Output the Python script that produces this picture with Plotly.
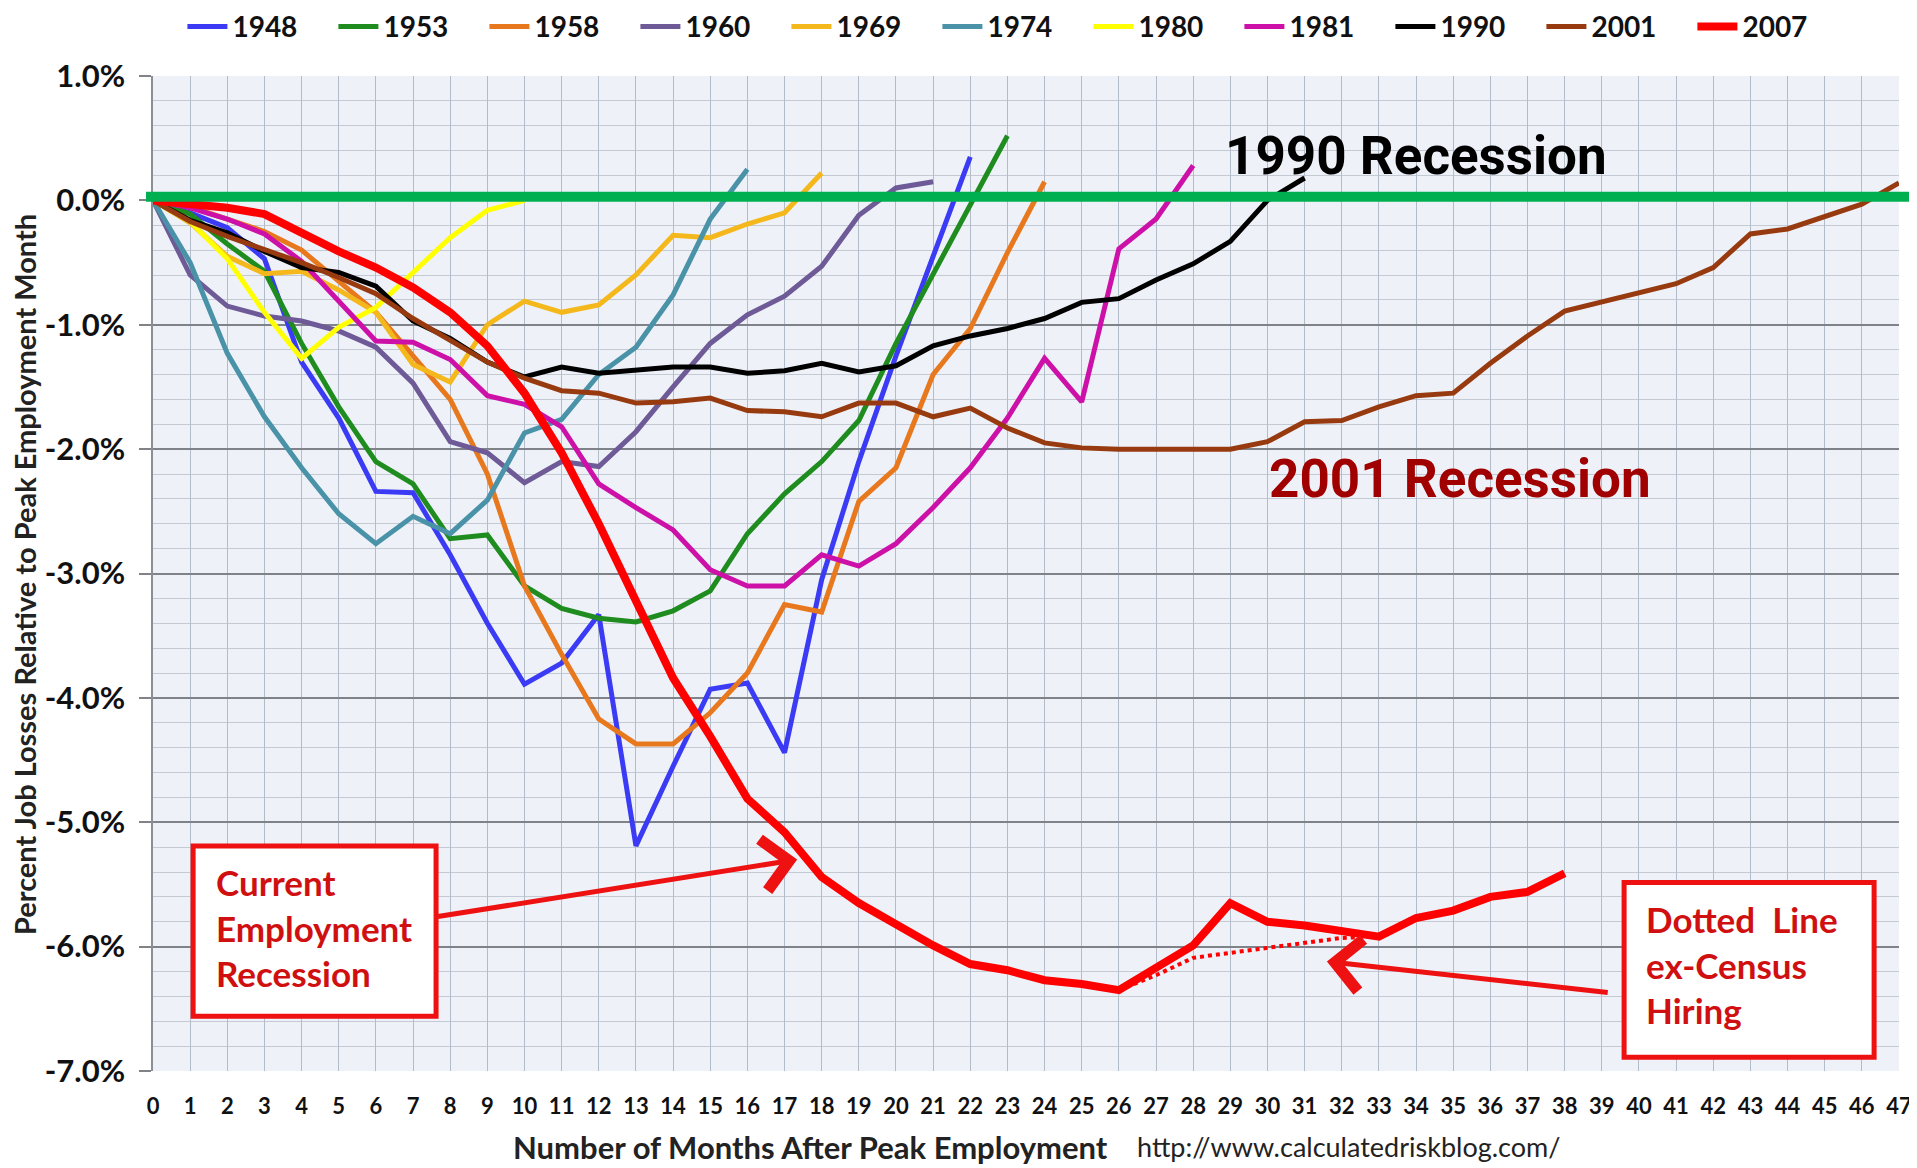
import plotly.graph_objects as go

# ---------------- data (percent job losses vs months after peak) ----------------
series_names = ["1948", "1953", "1958", "1960", "1969", "1974", "1980", "1981", "1990", "2001", "2007"]

s1948 = [0, -0.1, -0.22, -0.47, -1.3, -1.75, -2.34, -2.35, -2.85, -3.4, -3.89, -3.72, -3.33, -5.19,
         -4.55, -3.93, -3.88, -4.44, -3.05, -2.1, -1.25, -0.45, 0.35]
s1953 = [0, -0.11, -0.35, -0.57, -1.15, -1.66, -2.1, -2.28, -2.72, -2.69, -3.1, -3.28, -3.36, -3.39,
         -3.3, -3.14, -2.68, -2.36, -2.1, -1.77, -1.15, -0.6, -0.05, 0.52]
s1958 = [0, -0.05, -0.15, -0.25, -0.4, -0.65, -0.9, -1.25, -1.6, -2.2, -3.1, -3.65, -4.17, -4.37,
         -4.37, -4.12, -3.8, -3.25, -3.31, -2.42, -2.15, -1.4, -1.03, -0.42, 0.15]
s1960 = [0, -0.6, -0.85, -0.93, -0.97, -1.05, -1.18, -1.47, -1.94, -2.03, -2.27, -2.1, -2.14, -1.86,
         -1.5, -1.15, -0.92, -0.77, -0.53, -0.12, 0.1, 0.15]
s1969 = [0, -0.18, -0.45, -0.59, -0.57, -0.72, -0.9, -1.32, -1.46, -1.0, -0.81, -0.9, -0.84, -0.6,
         -0.28, -0.3, -0.19, -0.1, 0.22]
s1974 = [0, -0.5, -1.23, -1.74, -2.15, -2.52, -2.76, -2.54, -2.68, -2.41, -1.87, -1.76, -1.4, -1.18,
         -0.76, -0.15, 0.25]
s1980 = [0, -0.17, -0.47, -0.9, -1.27, -1.02, -0.86, -0.58, -0.3, -0.08, 0.0]
s1981 = [0, -0.06, -0.15, -0.27, -0.49, -0.81, -1.13, -1.14, -1.28, -1.57, -1.64, -1.82, -2.28, -2.47,
         -2.65, -2.97, -3.1, -3.1, -2.85, -2.94, -2.76, -2.47, -2.15, -1.75, -1.27, -1.62, -0.39, -0.15, 0.28]
s1990 = [0, -0.16, -0.26, -0.41, -0.54, -0.58, -0.69, -0.97, -1.11, -1.3, -1.42, -1.34, -1.39, -1.37,
         -1.34, -1.34, -1.39, -1.37, -1.31, -1.38, -1.33, -1.17, -1.09, -1.03, -0.95, -0.82, -0.79, -0.64,
         -0.51, -0.33, 0.0, 0.18]
s2001 = [0, -0.17, -0.29, -0.39, -0.5, -0.62, -0.75, -0.95, -1.12, -1.3, -1.43, -1.53, -1.55, -1.63,
         -1.62, -1.59, -1.69, -1.7, -1.74, -1.63, -1.63, -1.74, -1.67, -1.83, -1.95, -1.99, -2.0, -2.0,
         -2.0, -2.0, -1.94, -1.78, -1.77, -1.66, -1.57, -1.55, -1.31, -1.09, -0.89, -0.82, -0.74, -0.67,
         -0.54, -0.27, -0.23, -0.13, -0.03, 0.14]
s2007 = [0, -0.03, -0.06, -0.11, -0.26, -0.41, -0.54, -0.7, -0.9, -1.17, -1.55, -2.03, -2.6, -3.22,
         -3.84, -4.31, -4.81, -5.08, -5.44, -5.65, -5.82, -5.99, -6.14, -6.19, -6.27, -6.3, -6.35, -6.17,
         -5.99, -5.65, -5.8, -5.83, -5.88, -5.92, -5.77, -5.71, -5.6, -5.56, -5.41]
ex_census_months = [26, 27, 28, 29, 30, 31, 32, 33]
ex_census_values = [-6.35, -6.23, -6.09, -6.05, -6.01, -5.97, -5.93, -5.92]

series_values = [s1948, s1953, s1958, s1960, s1969, s1974, s1980, s1981, s1990, s2001, s2007]
series_colors = ["#3b3bf5", "#1e8c1e", "#e8781e", "#6e5a96", "#f4b81c", "#4a92a8",
                 "#ffff00", "#cc10a8", "#000000", "#983a10", "#ff0000"]
month_ticks = list(range(0, 48))
y_ticks = [1, 0, -1, -2, -3, -4, -5, -6, -7]

RED = "#ee1111"
BOLD = "Lato, 'Open Sans', sans-serif"
HEAD = "Roboto, 'Liberation Sans', sans-serif"

fig = go.Figure()
for name, vals, col in zip(series_names, series_values, series_colors):
    fig.add_trace(go.Scatter(
        x=month_ticks[:len(vals)], y=vals, mode="lines", name=name,
        line=dict(color=col, width=8 if name == "2007" else 5),
    ))
fig.add_trace(go.Scatter(
    x=ex_census_months, y=ex_census_values, mode="lines", showlegend=False,
    line=dict(color="#ff0000", width=4, dash="dot"),
))

# green zero line
fig.add_shape(type="line", xref="paper", yref="y", x0=-0.004, x1=1.02, y0=0.03, y1=0.03,
              line=dict(color="#00b050", width=10), layer="above")

# annotation boxes
fig.add_shape(type="rect", xref="x", yref="y", x0=1.08, x1=7.62, y0=-5.19, y1=-6.56,
              line=dict(color=RED, width=5), fillcolor="white", layer="above")
fig.add_shape(type="rect", xref="x", yref="y", x0=39.6, x1=46.33, y0=-5.485, y1=-6.89,
              line=dict(color=RED, width=5), fillcolor="white", layer="above")

annotations = [
    dict(text="1990 Recession", x=34.0, y=0.357, xref="x", yref="y", showarrow=False,
         xanchor="center", yanchor="middle",
         font=dict(family=HEAD, size=53, color="black", weight="bold")),
    dict(text="2001 Recession", x=35.17, y=-2.243, xref="x", yref="y", showarrow=False,
         xanchor="center", yanchor="middle",
         font=dict(family=HEAD, size=53, color="#a00000", weight="bold")),
    dict(text="Current<br>Employment<br>Recession", x=1.64, y=-5.847, xref="x", yref="y",
         xanchor="left", yanchor="middle", align="left", showarrow=False,
         font=dict(family=BOLD, size=35, color="#d01010", weight="bold")),
    dict(text="Dotted  Line<br>ex-Census<br>Hiring", x=40.13, y=-6.143, xref="x", yref="y",
         xanchor="left", yanchor="middle", align="left", showarrow=False,
         font=dict(family=BOLD, size=35, color="#d01010", weight="bold")),
    dict(text="", x=17.34, y=-5.30, ax=7.63, ay=-5.76, xref="x", yref="y", axref="x", ayref="y",
         showarrow=True, arrowhead=4, arrowsize=2.0, arrowwidth=5, arrowcolor=RED),
    dict(text="", x=31.6, y=-6.12, ax=39.2, ay=-6.37, xref="x", yref="y", axref="x", ayref="y",
         showarrow=True, arrowhead=4, arrowsize=2.0, arrowwidth=5, arrowcolor=RED),
    dict(text="Percent Job Losses Relative to Peak Employment Month", textangle=-90,
         x=-0.0733, y=0.4985, xref="paper", yref="paper", xanchor="center", yanchor="middle",
         showarrow=False, font=dict(family=BOLD, size=29, color="#222", weight="bold")),
    dict(text="Number of Months After Peak Employment", x=0.3763, y=-0.076, xref="paper", yref="paper",
         xanchor="center", yanchor="middle",
         showarrow=False, font=dict(family=BOLD, size=31, color="#222", weight="bold")),
    dict(text="http://www.calculatedriskblog.com/", x=0.5622, y=-0.076, xref="paper", yref="paper",
         xanchor="left", yanchor="middle", showarrow=False,
         font=dict(family=BOLD, size=27, color="#222")),
]

fig.update_layout(
    width=1909, height=1160,
    margin=dict(l=145, r=18, t=68, b=97, autoexpand=False),
    paper_bgcolor="white", plot_bgcolor="#eef2f8",
    font=dict(family=BOLD, color="#222"),
    annotations=annotations,
    legend=dict(orientation="h", x=0.4925, y=1.0495, xanchor="center", yanchor="middle",
                font=dict(family=BOLD, size=28, color="#111", weight="bold"),
                itemwidth=40, entrywidth=96, entrywidthmode="pixels",
                bgcolor="rgba(0,0,0,0)", traceorder="normal"),
    xaxis=dict(range=[0, 47], tickmode="array", tickvals=month_ticks, ticktext=[str(m) for m in month_ticks],
               showgrid=True, gridcolor="#b3bcc9", gridwidth=1, zeroline=False, ticks="",
               ticklabelstandoff=20, tickfont=dict(family=BOLD, size=22, weight="bold", color="#111"),
               showline=False),
    yaxis=dict(range=[-7, 1], tickmode="array", tickvals=y_ticks, ticktext=[f"{v:.1f}%" for v in y_ticks],
               showgrid=True, gridcolor="#7f8389", gridwidth=1.5, zeroline=False,
               ticks="outside", ticklen=12, tickcolor="#7f8389", tickwidth=1.5,
               ticklabelstandoff=8, tickfont=dict(family=BOLD, size=31, weight="bold", color="#111"),
               showline=True, linecolor="#8a8f96", linewidth=1.5,
               minor=dict(dtick=0.2, showgrid=True, gridcolor="#c3cad4", gridwidth=1)),
)

fig.write_html("out.html")
